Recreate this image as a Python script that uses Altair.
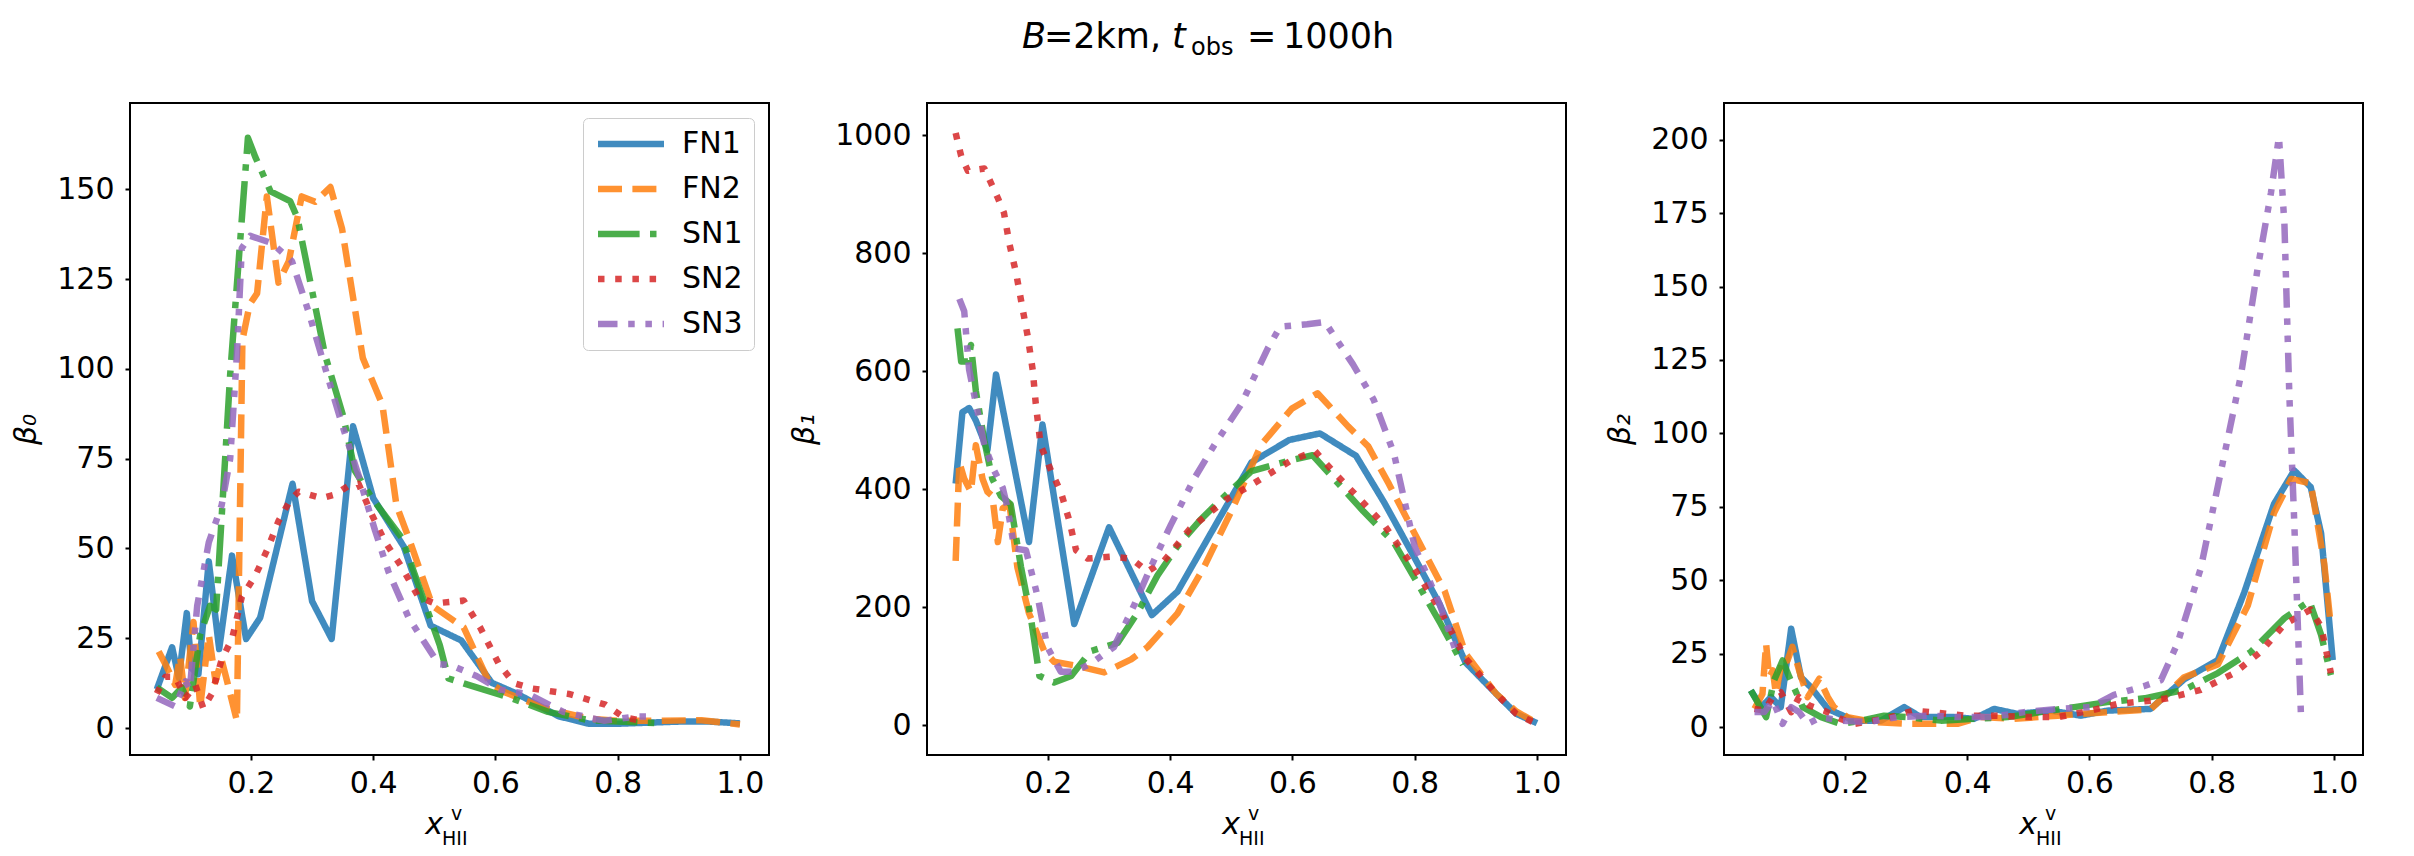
import altair as alt
import pandas as pd

SERIES = ["FN1", "FN2", "SN1", "SN2", "SN3"]
COLORS = ["#1f77b4", "#ff7f0e", "#2ca02c", "#d62728", "#9467bd"]
DASHES = [[1, 0], [24, 10.4], [41.6, 10.4, 6.5, 10.4], [6.5, 10.7],
          [19.5, 10.7, 6.5, 10.7, 6.5, 10.7]]

X_TICKS = [0.2, 0.4, 0.6, 0.8, 1.0]
B0_TICKS = [0, 25, 50, 75, 100, 125, 150]
B1_TICKS = [0, 200, 400, 600, 800, 1000]
B2_TICKS = [0, 25, 50, 75, 100, 125, 150, 175, 200]

Y_TITLES = ["β₀", "β₁", "β₂"]
XLABEL_MAIN = ["x"]
XLABEL_SUP = ["v"]
XLABEL_SUB = ["HII"]
TITLE_PARTS_ITALIC = ["B", "t"]
TITLE_PARTS_PLAIN = ["=2km,", "=", "1000h"]
TITLE_SUB = ["obs"]

# ---------------- beta_0 ----------------
B0_FN1_X = [0.046, 0.071, 0.082, 0.095, 0.103, 0.114, 0.131, 0.148, 0.169, 0.192, 0.215, 0.268, 0.300, 0.332,
            0.367, 0.400, 0.450, 0.494, 0.544, 0.594, 0.636, 0.703, 0.753, 0.800, 0.850, 0.900, 0.950, 1.000]
B0_FN1_Y = [10.8, 22.5, 14, 32, 16.6, 15, 46.4, 22, 48, 24.8, 30.7, 68, 35.3, 24.8,
            84, 64, 50.5, 28.5, 24.4, 12.6, 9.5, 3.3, 1.2, 1.2, 1.5, 1.8, 1.8, 1.3]
B0_FN2_X = [0.049, 0.060, 0.076, 0.084, 0.092, 0.106, 0.117, 0.131, 0.142, 0.152, 0.161, 0.177, 0.186, 0.198,
            0.210, 0.226, 0.245, 0.262, 0.283, 0.305, 0.330, 0.349, 0.383, 0.415, 0.438, 0.460, 0.497, 0.548,
            0.590, 0.615, 0.678, 0.753, 0.800, 0.853, 0.937, 1.000]
B0_FN2_Y = [21.3, 17.8, 12, 20, 8.4, 29.5, 6, 26, 13, 19, 13, 2, 108, 118,
            121, 148, 124, 130, 148, 146.5, 150.6, 139, 103, 90, 62, 52, 34, 28,
            12.6, 10, 5.7, 2.6, 2, 2, 2.2, 1]
B0_SN1_X = [0.046, 0.071, 0.087, 0.100, 0.117, 0.133, 0.143, 0.166, 0.195, 0.207, 0.232, 0.264, 0.276,
            0.321, 0.351, 0.370, 0.398, 0.447, 0.509, 0.523, 0.569, 0.628, 0.686, 0.753, 0.800, 0.875]
B0_SN1_Y = [11.3, 8.4, 11.3, 6, 26, 34, 33, 98.5, 164.3, 159, 149.4, 146.7, 142,
            104, 86.8, 71.6, 64, 52.9, 23, 13.8, 11.3, 8.2, 4.5, 2.2, 1.8, 1.3]
B0_SN2_X = [0.046, 0.060, 0.076, 0.093, 0.109, 0.122, 0.136, 0.152, 0.169, 0.185, 0.207, 0.226, 0.245,
            0.264, 0.278, 0.316, 0.338, 0.360, 0.376, 0.398, 0.420, 0.447, 0.474, 0.501, 0.548, 0.575,
            0.605, 0.630, 0.660, 0.720, 0.780, 0.810, 0.840]
B0_SN2_Y = [9.6, 14.3, 14.3, 8.4, 12, 5.5, 9.6, 19, 24.8, 36.5, 42.4, 49.4, 57.6,
            63.4, 65.8, 64, 65, 67.5, 68, 59.3, 51.7, 44.7, 36.5, 34.7, 35.5, 28,
            18, 12.5, 11, 9.5, 6.5, 3, 2]
B0_SN3_X = [0.046, 0.076, 0.093, 0.100, 0.112, 0.131, 0.152, 0.166, 0.177, 0.185, 0.199, 0.234, 0.267,
            0.294, 0.327, 0.349, 0.376, 0.403, 0.425, 0.458, 0.507, 0.527, 0.569, 0.607, 0.653, 0.711,
            0.778, 0.828, 0.853]
B0_SN3_Y = [8.4, 6, 13, 10.8, 34, 51.7, 62, 75, 104, 133.6, 137, 135, 130,
            116, 97, 84.5, 70.4, 55, 43.5, 30.7, 17.8, 17.5, 14.5, 10.7, 9.5, 4.5,
            2, 3.2, 3.2]

# ---------------- beta_1 ----------------
B1_FN1_X = [0.049, 0.060, 0.071, 0.082, 0.101, 0.115, 0.169, 0.191, 0.243, 0.300, 0.370, 0.412,
            0.466, 0.533, 0.595, 0.645, 0.704, 0.750, 0.800, 0.841, 0.883, 0.933, 0.966, 1.000]
B1_FN1_Y = [410, 531, 538, 517, 467, 595, 311, 510, 172, 336, 187, 227,
            325, 446, 484, 495, 457, 378, 284, 205, 107, 54, 20, 4]
B1_FN2_X = [0.049, 0.055, 0.063, 0.074, 0.082, 0.093, 0.101, 0.109, 0.118, 0.126, 0.137, 0.150,
            0.169, 0.194, 0.210, 0.248, 0.292, 0.336, 0.363, 0.412, 0.455, 0.499, 0.549, 0.599,
            0.641, 0.691, 0.724, 0.758, 0.800, 0.849, 0.883, 0.933, 0.966, 1.000]
B1_FN2_Y = [279, 446, 418, 396, 475, 418, 396, 389, 311, 368, 375, 268,
            190, 126, 108, 101, 90, 112, 133, 190, 268, 361, 476, 537,
            563, 507, 473, 409, 325, 228, 122, 54, 24, 4]
B1_SN1_X = [0.052, 0.058, 0.069, 0.074, 0.082, 0.096, 0.109, 0.123, 0.139, 0.156, 0.172, 0.186,
            0.210, 0.238, 0.270, 0.314, 0.346, 0.379, 0.412, 0.449, 0.482, 0.533, 0.599, 0.633,
            0.683, 0.716, 0.766, 0.808, 0.841, 0.879]
B1_SN1_Y = [673, 617, 617, 645, 567, 482, 418, 389, 375, 268, 183, 84,
            73, 84, 126, 140, 190, 254, 304, 348, 382, 431, 450, 458,
            401, 363, 310, 235, 175, 103]
B1_SN2_X = [0.049, 0.058, 0.069, 0.096, 0.107, 0.118, 0.128, 0.137, 0.148, 0.158, 0.167, 0.175,
            0.180, 0.188, 0.205, 0.221, 0.235, 0.246, 0.265, 0.303, 0.336, 0.363, 0.390, 0.432,
            0.490, 0.533, 0.599, 0.637, 0.666, 0.708, 0.750, 0.800, 0.841, 0.883, 0.933, 0.966, 0.995]
B1_SN2_Y = [1004, 965, 940, 944, 919, 894, 869, 816, 766, 709, 659, 603,
            546, 475, 432, 396, 347, 297, 283, 286, 283, 261, 279, 333,
            382, 408, 450, 465, 431, 386, 340, 265, 197, 114, 54, 20, 5]
B1_SN3_X = [0.055, 0.063, 0.071, 0.085, 0.096, 0.112, 0.126, 0.134, 0.145, 0.164, 0.183, 0.199,
            0.221, 0.243, 0.270, 0.308, 0.341, 0.368, 0.401, 0.439, 0.472, 0.516, 0.560, 0.580,
            0.624, 0.653, 0.699, 0.733, 0.766, 0.800, 0.841, 0.866]
B1_SN3_Y = [723, 702, 603, 531, 475, 432, 403, 368, 300, 297, 219, 133,
            91, 91, 105, 133, 204, 268, 340, 418, 475, 544, 640, 676,
            680, 684, 612, 552, 461, 303, 205, 130]

# ---------------- beta_2 ----------------
B2_FN1_X = [0.046, 0.063, 0.079, 0.095, 0.112, 0.128, 0.144, 0.172, 0.215, 0.259, 0.297, 0.324, 0.379,
            0.411, 0.444, 0.482, 0.537, 0.586, 0.629, 0.700, 0.755, 0.810, 0.853, 0.902, 0.935, 0.962,
            0.979, 0.998]
B2_FN1_Y = [12.5, 6.8, 10.2, 6.8, 33.5, 17, 13.6, 6.2, 2.2, 2.2, 6.8, 3.4, 3.4,
            2.8, 6.2, 4.5, 5.6, 3.9, 5.6, 6.2, 16.3, 22.8, 45.7, 76, 87.4, 81.7,
            65.9, 22.8]
B2_FN2_X = [0.052, 0.065, 0.071, 0.076, 0.082, 0.087, 0.098, 0.106, 0.114, 0.125, 0.139, 0.158, 0.172,
            0.182, 0.204, 0.248, 0.302, 0.335, 0.384, 0.422, 0.477, 0.548, 0.629, 0.700, 0.755, 0.810,
            0.859, 0.902, 0.930, 0.962, 0.984, 0.995]
B2_FN2_Y = [6.2, 11.3, 28.4, 17, 19.3, 11.3, 23.8, 22.7, 27.3, 19.3, 10.2, 16.5, 10.2,
            6.8, 3.4, 1.7, 1.1, 1.1, 1.1, 3.4, 2.8, 3.9, 5.1, 6, 17, 21.3,
            41.4, 73, 84.5, 83, 55.8, 34.2]
B2_SN1_X = [0.046, 0.071, 0.084, 0.098, 0.109, 0.131, 0.161, 0.193, 0.226, 0.264, 0.302, 0.357, 0.411,
            0.466, 0.520, 0.575, 0.629, 0.690, 0.755, 0.810, 0.864, 0.919, 0.960, 0.979, 0.995]
B2_SN1_Y = [12.5, 3.4, 15.9, 22.7, 17, 6.8, 3.4, 1.1, 2.2, 3.9, 3.4, 2.2, 2.8,
            3.4, 5.1, 6.8, 8.5, 9.8, 12.7, 18.4, 25.6, 37.1, 42.9, 31.4, 17.7]
B2_SN2_X = [0.052, 0.068, 0.082, 0.095, 0.112, 0.125, 0.142, 0.166, 0.193, 0.215, 0.264, 0.313, 0.341,
            0.395, 0.444, 0.499, 0.548, 0.602, 0.646, 0.700, 0.728, 0.782, 0.837, 0.880, 0.919, 0.962,
            0.979, 0.995]
B2_SN2_Y = [6.2, 5.6, 10.2, 11.9, 5.1, 10.2, 7.3, 5.6, 2.8, 1.1, 2.8, 5.6, 5.1,
            3.9, 3.9, 3.4, 3.4, 5.6, 7.9, 9, 9.8, 12.7, 18.4, 25.6, 35, 40,
            34.2, 18.4]
B2_SN3_X = [0.052, 0.068, 0.082, 0.098, 0.112, 0.125, 0.139, 0.161, 0.193, 0.237, 0.286, 0.341, 0.384,
            0.439, 0.493, 0.548, 0.602, 0.640, 0.690, 0.717, 0.744, 0.782, 0.815, 0.848, 0.875, 0.897,
            0.910, 0.919, 0.927, 0.935, 0.946]
B2_SN3_Y = [5.1, 5.1, 9, 1.1, 6.8, 5.1, 1.1, 3.4, 2.2, 1.7, 3.4, 3.9, 3.4,
            3.4, 5.1, 6.2, 6.8, 11, 14, 16, 28.5, 54, 87, 120, 156, 182,
            201, 171, 113, 70, 4]

FONT = "DejaVu Sans"
W, H = 639, 652
X_DOMAIN = [0.0021, 1.0475]


def make_df(xs, ys):
    rows = []
    for name, xv, yv in zip(SERIES, xs, ys):
        assert len(xv) == len(yv), name
        for a, b in zip(xv, yv):
            rows.append({"series": name, "x": a, "y": b})
    return pd.DataFrame(rows)


def axis(values, fmt, title=None, pad=11):
    kw = dict(values=values, format=fmt, domain=False, grid=False, ticks=True, tickSize=5,
              tickWidth=2, tickColor="black", labelFont=FONT, labelFontSize=30, labelColor="black",
              labelPadding=pad, labelFlush=False, labelOverlap=False)
    if title is not None:
        kw.update(title=title, titleFont=FONT, titleFontSize=30, titleFontStyle="italic",
                  titleFontWeight="normal", titleColor="black", titlePadding=15)
    else:
        kw.update(title=None)
    return alt.Axis(**kw)


def text_layer(strings, x, y, size, italic=False, align="left"):
    kw = dict(font=FONT, fontSize=size, align=align, baseline="alphabetic", color="black")
    if italic:
        kw["fontStyle"] = "italic"
    return alt.Chart(pd.DataFrame({"t": strings})).mark_text(**kw).encode(
        text="t:N", x=alt.value(x), y=alt.value(y))


def panel(df, ydomain, yticks, ytitle, show_legend, extra=()):
    if show_legend:
        leg = alt.Legend(title=None, orient="top-right", offset=15, padding=11, cornerRadius=5,
                         strokeColor="#cccccc", fillColor="rgba(255,255,255,0.8)",
                         symbolType="M-1,0H5", symbolSize=484, symbolStrokeWidth=6.5,
                         symbolOpacity=0.85, labelFont=FONT, labelFontSize=30, labelColor="black",
                         labelOffset=58, rowPadding=15)
    else:
        leg = None
    lines = alt.Chart(df).mark_line(strokeWidth=6.5, strokeJoin="round", strokeCap="butt",
                                    opacity=0.85, clip=True).encode(
        x=alt.X("x:Q", scale=alt.Scale(domain=X_DOMAIN, nice=False, zero=False),
                axis=axis(X_TICKS, ".1f", pad=8)),
        y=alt.Y("y:Q", scale=alt.Scale(domain=ydomain, nice=False, zero=False),
                axis=axis(yticks, "d", ytitle)),
        color=alt.Color("series:N", scale=alt.Scale(domain=SERIES, range=COLORS), legend=leg),
        strokeDash=alt.StrokeDash("series:N", scale=alt.Scale(domain=SERIES, range=DASHES), legend=leg),
    )
    xl = [
        text_layer(XLABEL_MAIN, 304, 731, 30, italic=True, align="center"),
        text_layer(XLABEL_SUP, 321, 717, 19),
        text_layer(XLABEL_SUB, 312, 742, 19),
    ]
    return alt.layer(lines, *xl, *extra).properties(width=W, height=H)


df0 = make_df([B0_FN1_X, B0_FN2_X, B0_SN1_X, B0_SN2_X, B0_SN3_X],
              [B0_FN1_Y, B0_FN2_Y, B0_SN1_Y, B0_SN2_Y, B0_SN3_Y])
df1 = make_df([B1_FN1_X, B1_FN2_X, B1_SN1_X, B1_SN2_X, B1_SN3_X],
              [B1_FN1_Y, B1_FN2_Y, B1_SN1_Y, B1_SN2_Y, B1_SN3_Y])
df2 = make_df([B2_FN1_X, B2_FN2_X, B2_SN1_X, B2_SN2_X, B2_SN3_X],
              [B2_FN1_Y, B2_FN2_Y, B2_SN1_Y, B2_SN2_Y, B2_SN3_Y])

title_layers = [
    text_layer([TITLE_PARTS_ITALIC[0]], 95, -55, 35, italic=True),
    text_layer([TITLE_PARTS_PLAIN[0]], 117, -55, 35),
    text_layer([TITLE_PARTS_ITALIC[1]], 245, -55, 35, italic=True),
    text_layer(TITLE_SUB, 264, -48, 24),
    text_layer([TITLE_PARTS_PLAIN[1]], 320, -55, 35),
    text_layer([TITLE_PARTS_PLAIN[2]], 356, -55, 35),
]

p0 = panel(df0, [-7.5, 174], B0_TICKS, Y_TITLES[0], True)
p1 = panel(df1, [-50, 1055], B1_TICKS, Y_TITLES[1], False, title_layers)
p2 = panel(df2, [-9.5, 212.5], B2_TICKS, Y_TITLES[2], False)

chart = alt.hconcat(p0, p1, p2, spacing=158, bounds="flush").resolve_scale(
    color="independent", strokeDash="independent", x="independent", y="independent"
).properties(
    padding={"left": 2, "top": 11, "right": 5, "bottom": 5},
    background="white",
).configure_view(stroke="black", strokeWidth=2)

chart.save("out.html", embed_options={"renderer": "svg", "actions": False})
